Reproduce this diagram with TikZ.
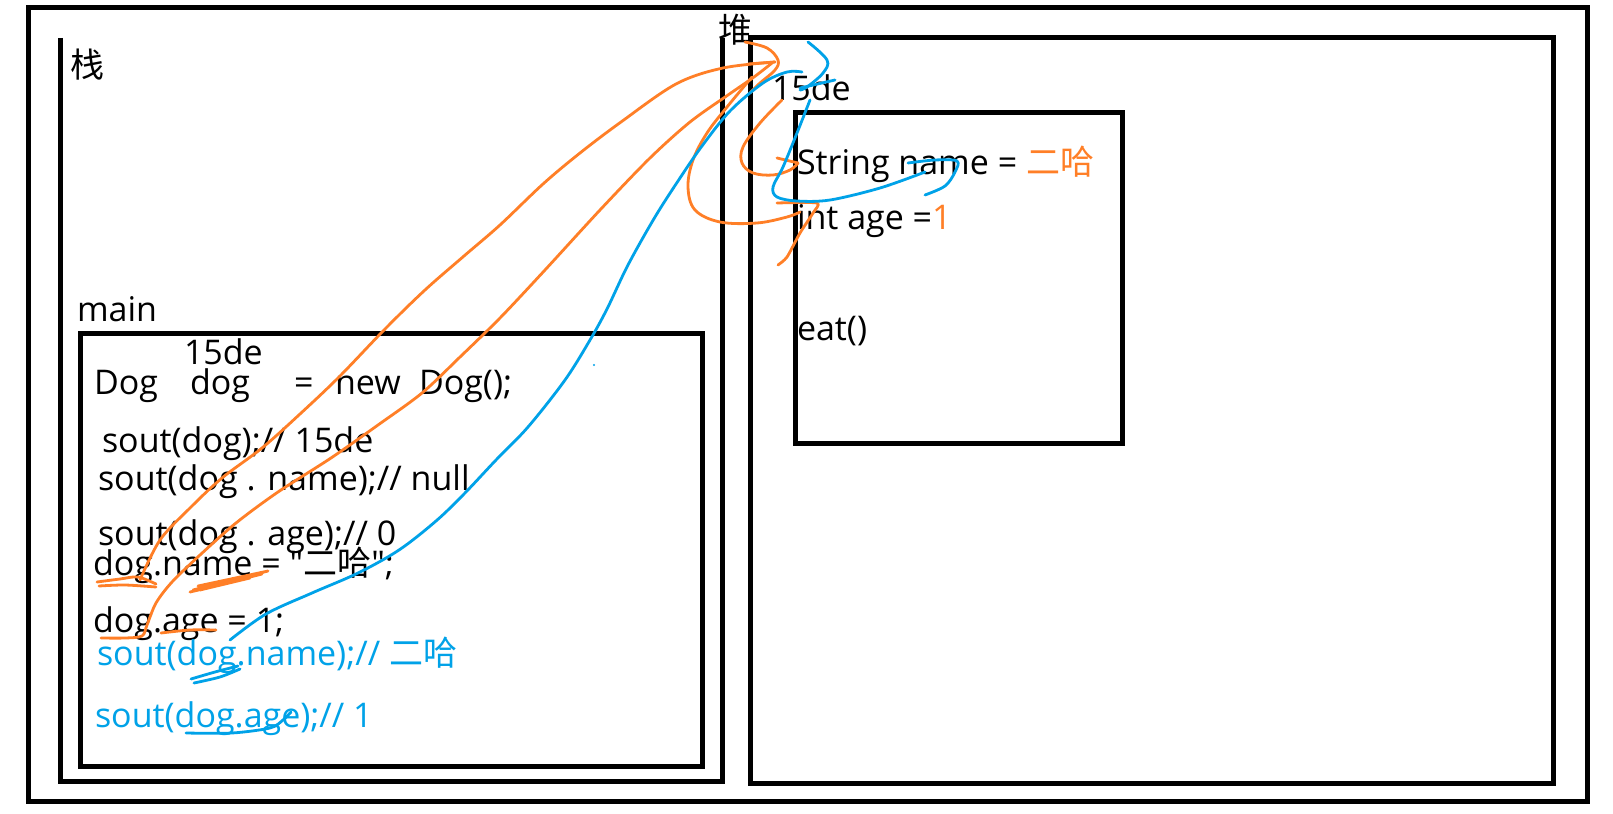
\documentclass[tikz,border=0pt]{standalone}
\usepackage{fontspec}
\setmainfont{Open Sans}[Ligatures=TeXOff]
\newfontfamily\cjk{Noto Sans CJK SC}
\definecolor{orangeC}{RGB}{255,127,39}
\definecolor{blueC}{RGB}{0,162,232}
\newcommand\myfs{\fontsize{34bp}{40bp}\selectfont}
\begin{document}
\begin{tikzpicture}[x=1bp,y=-1bp,
  box/.style={draw=black, line width=5bp},
  ostroke/.style={draw=orangeC, line width=2.8bp, line cap=round, line join=round},
  bstroke/.style={draw=blueC, line width=2.8bp, line cap=round, line join=round},
  txt/.style={anchor=base west, inner sep=0pt, outer sep=0pt, font=\myfs},
  ]
\useasboundingbox (0,0) rectangle (1613,813);
\fill[white] (0,0) rectangle (1613,813);

% frames
\draw[box] (28,8) rectangle (1587,801);
\draw[box] (60,38) -- (60,781) -- (722,781) -- (722,38);
\draw[box] (80,333) rectangle (702,766);
\draw[box] (750,38) rectangle (1553,783);
\draw[box] (795,112) rectangle (1122,443);

% labels
\node[txt] (zhan) at (70,78) {\cjk 栈};
\node[txt] (dui) at (718,43) {\cjk 堆};
\node[txt] (main) at (77,321) {main};

% main frame code
\node[txt] (addr1) at (184,364) {15de};
\node[txt] (t1) at (94,394) {Dog};
\node[txt] (t2) at (190,394) {dog};
\node[txt] (t3) at (294,394) {=};
\node[txt] (t4) at (335,394) {new};
\node[txt] (t5) at (419,394) {Dog();};
\node[txt] (l1) at (102,452) {sout(dog);// 15de};
\node[txt] (l2) at (98,490) {sout(dog . name);// null};
\node[txt] (l3) at (98,545) {sout(dog . age);// 0};
\node[txt] (l4) at (93,575) {dog.name = "{\cjk 二哈}";};
\node[txt] (l5) at (93,632) {dog.age = 1;};
\node[txt, text=blueC] (l6) at (97,665) {sout(dog.name);// {\cjk 二哈}};
\node[txt, text=blueC] (l7) at (95,727) {sout(dog.age);// 1};

% heap object
\node[txt] (addr2) at (772,100) {15de};
\node[txt] (f1) at (797,174) {String name = {\color{orangeC}\cjk 二哈}};
\node[txt] (f2) at (797,229) {int age ={\color{orangeC}1}};
\node[txt] (f3) at (797,340) {eat()};

% orange strokes
\draw[ostroke] plot[smooth, tension=0.5] coordinates {(97,582) (120,579) (138,577) (156,584)};
\draw[ostroke] plot[smooth, tension=0.5] coordinates {(99,586) (125,585) (156,587)};
\draw[ostroke] plot[smooth, tension=0.55] coordinates {(140,580) (160,540) (190,508) (222,478) (262,448) (300,414) (339,377) (386,328) (425,290) (464,256) (500,225) (543,184) (580,153) (621,122) (676,84) (723,68) (775,62)};
\draw[ostroke] plot[smooth, tension=0.5] coordinates {(101,638) (125,638) (142,636) (147,625) (156,603) (172,582) (200,555) (236,523) (278,492) (331,458) (378,425) (422,393) (460,357) (500,318) (545,270) (600,210) (650,158) (690,122) (728,95) (754,77) (772,63)};
\draw[ostroke] plot[smooth, tension=0.5] coordinates {(161,633) (190,630) (216,630)};
\draw[ostroke] (193,590) -- (268,571) -- (198,586) -- (262,574) -- (190,592) -- (250,578) -- (200,590);
\draw[ostroke] plot[smooth, tension=0.6] coordinates {(745,42) (767,48) (778,60) (775,70) (760,83) (750,93)};
\draw[ostroke] (748,64) -- (775,62);
\draw[ostroke] plot[smooth, tension=0.6] coordinates {(782,100) (760,123) (743,147) (742,163) (753,173) (773,175) (790,170) (798,163)};
\draw[ostroke] (777,158) -- (798,163);
\draw[ostroke] plot[smooth, tension=0.6] coordinates {(752,77) (727,107) (707,133) (693,160) (688,187) (695,210) (720,222) (757,223) (787,217) (800,212)};
\draw[ostroke] plot[smooth, tension=0.4] coordinates {(777,203) (817,203) (813,213) (800,233) (787,257) (778,265)};

% blue strokes
\draw[bstroke] plot[smooth, tension=0.55] coordinates {(230,640) (266,614) (312,593) (358,573) (399,550) (436,521) (464,494) (496,460) (528,427) (565,380) (590,340) (607,309) (628,265) (655,217) (680,178) (702,146) (730,111) (763,83) (787,72) (802,72)};
\draw[bstroke] plot[smooth, tension=0.6] coordinates {(808,42) (827,60) (823,73) (807,87) (800,90)};
\draw[bstroke] (800,88) -- (835,80);
\draw[bstroke] plot[smooth, tension=0.55] coordinates {(810,100) (797,133) (783,167) (773,187) (777,197) (797,201) (830,200) (880,188) (925,172)};
\draw[bstroke] plot[smooth, tension=0.55] coordinates {(908,163) (935,160) (957,161) (955,172) (945,186) (925,195)};
\draw[bstroke] plot[smooth, tension=0.5] coordinates {(191,679) (215,672) (238,666)};
\draw[bstroke] plot[smooth, tension=0.5] coordinates {(194,683) (220,677) (240,669)};
\draw[bstroke] plot[smooth, tension=0.5] coordinates {(186,733) (232,733) (270,728) (283,720) (291,712)};
\fill[blueC] (594,365) circle (1.2);
\end{tikzpicture}
\end{document}
